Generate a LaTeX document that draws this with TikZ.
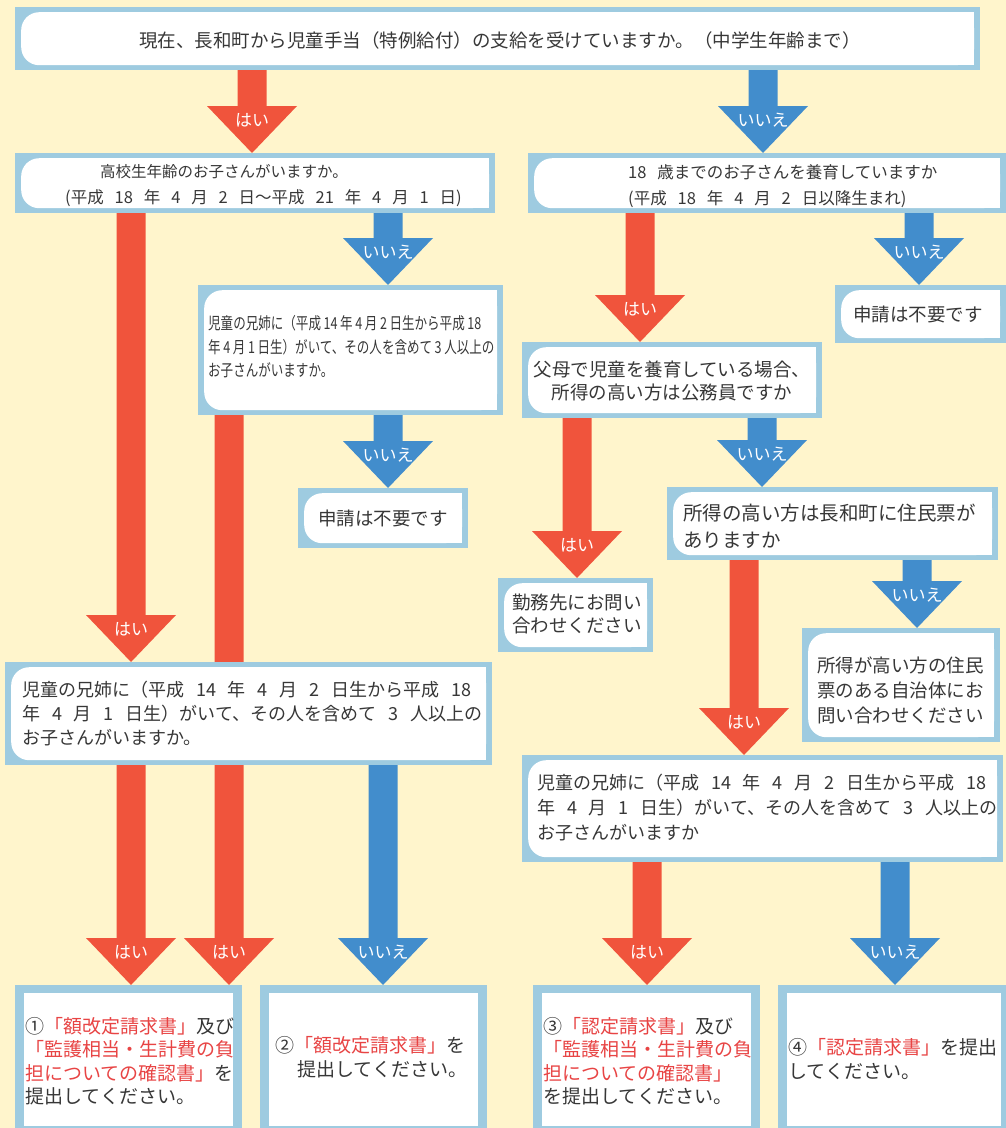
\documentclass[tikz,border=0pt]{standalone}
\usepackage{fontspec}
\setmainfont{Noto Sans CJK JP}
\newfontfamily\condfont[FakeStretch=0.76]{Noto Sans CJK JP}
\usetikzlibrary{calc,backgrounds}
\definecolor{bgcream}{RGB}{255,245,204}
\definecolor{boxblue}{RGB}{158,203,224}
\definecolor{arrred}{RGB}{240,84,60}
\definecolor{arrblue}{RGB}{66,141,204}
\definecolor{txt}{RGB}{55,55,55}
\definecolor{redtxt}{RGB}{232,68,68}
\pgfdeclarelayer{bottomlayer}
\pgfsetlayers{bottomlayer,background,main}
\newcommand\fsz[2]{\fontsize{#1pt}{#2pt}\selectfont\spaceskip=0.66em\relax}
\newcommand\condfs{\condfont\fontsize{16.5pt}{23.5pt}\selectfont\spaceskip=2.6pt\relax}
\tikzset{
 qbox/.style={fill=boxblue, anchor=north west, inner sep=0pt,
   path picture={
     \fill[white, rounded corners=18pt] ([xshift=6pt,yshift=-5pt]path picture bounding box.north west) rectangle ([xshift=-6pt,yshift=5pt]path picture bounding box.south east);
     \fill[white] ([yshift=-5pt]path picture bounding box.north) rectangle ([xshift=-6pt,yshift=5pt]path picture bounding box.south east);
   }},
 abox/.style={fill=boxblue, anchor=north west, inner sep=0pt,
   path picture={\fill[white] ([xshift=9pt,yshift=-8pt]path picture bounding box.north west) rectangle ([xshift=-9pt,yshift=9pt]path picture bounding box.south east);}},
 txtnode/.style={inner sep=0pt, text=txt, align=left},
 arrlabel/.style={text=white, font=\fsz{17}{17}, inner sep=0pt},
}
\newcommand\flowarrow[6]{%
  \fill[#1] let \p1=(#2.south), \p2=(#3.north) in
    (#4pt-14.5pt,\y1+2pt) -- (#4pt+14.5pt,\y1+2pt) -- (#4pt+14.5pt,\y2+47pt) -- (#4pt+45pt,\y2+47pt)
    -- (#4pt,\y2) -- (#4pt-45pt,\y2+47pt) -- (#4pt-14.5pt,\y2+47pt) -- cycle
    node[arrlabel] (#5) at (#4pt,\y2+33pt) {#6};
}
\begin{document}
\begin{tikzpicture}[x=1pt,y=-1pt]
\useasboundingbox (0,0) rectangle (1006,1128);
\begin{pgfonlayer}{bottomlayer}
\fill[bgcream] (0,0) rectangle (1006,1128);
\end{pgfonlayer}

\node[qbox, minimum width=965pt, minimum height=63pt] (q1) at (15,7) {};
\node[txtnode, font=\fsz{18.5}{24}] (q1t) at (500,40) {現在、長和町から児童手当（特例給付）の支給を受けていますか。（中学生年齢まで）};

\node[qbox, minimum width=480pt, minimum height=60pt] (q2) at (15,153) {};
\node[txtnode, anchor=west, font=\fsz{16.5}{26}] (q2t) at (65,186) {\hspace*{35pt}{\fsz{15.5}{26}高校生年齢のお子さんがいますか。}\\(平成 18 年 4 月 2 日〜平成 21 年 4 月 1 日)};

\node[qbox, minimum width=478pt, minimum height=60pt] (q3) at (528,153) {};
\node[txtnode, anchor=west, font=\fsz{16.5}{26}] (q3t) at (628,186) {18 歳までのお子さんを養育していますか\\(平成 18 年 4 月 2 日以降生まれ)};

\node[qbox, minimum width=305pt, minimum height=130pt] (q4) at (198,285) {};
\node[txtnode, anchor=west, font=\condfs] (q4t) at (208,347) {児童の兄姉に（平成 14 年 4 月 2 日生から平成 18\\年 4 月 1 日生）がいて、その人を含めて 3 人以上の\\お子さんがいますか。};

\node[qbox, minimum width=170pt, minimum height=60pt] (no1) at (298,488) {};
\node[txtnode, font=\fsz{18.5}{24}] (no1t) at (383,518) {申請は不要です};

\node[qbox, minimum width=171pt, minimum height=58pt] (no2) at (835,285) {};
\node[txtnode, anchor=west, font=\fsz{18.5}{24}] (no2t) at (853,314) {申請は不要です};

\node[qbox, minimum width=300pt, minimum height=76pt] (q5) at (522,342) {};
\node[txtnode, align=center, font=\fsz{18.5}{23}] (q5t) at (672,381) {父母で児童を養育している場合、\\所得の高い方は公務員ですか};

\node[qbox, minimum width=155pt, minimum height=74pt] (r1) at (498,578) {};
\node[txtnode, anchor=west, font=\fsz{18.5}{22.5}] (r1t) at (512,614) {勤務先にお問い\\合わせください};

\node[qbox, minimum width=331pt, minimum height=73pt] (q6) at (667,487) {};
\node[txtnode, anchor=west, font=\fsz{19.5}{27}] (q6t) at (683,526) {所得の高い方は長和町に住民票が\\ありますか};

\node[qbox, minimum width=198pt, minimum height=114pt] (r2) at (802,628) {};
\node[txtnode, anchor=west, font=\fsz{18.5}{25}] (r2t) at (817,690) {所得が高い方の住民\\票のある自治体にお\\問い合わせください};

\node[qbox, minimum width=487pt, minimum height=103pt] (q7) at (5,662) {};
\node[txtnode, anchor=west, font=\fsz{18}{24}] (q7t) at (22,714) {児童の兄姉に（平成 14 年 4 月 2 日生から平成 18\\年 4 月 1 日生）がいて、その人を含めて 3 人以上の\\お子さんがいますか。};

\node[qbox, minimum width=481pt, minimum height=107pt] (q8) at (522,755) {};
\node[txtnode, anchor=west, font=\fsz{18}{25}] (q8t) at (537,808) {児童の兄姉に（平成 14 年 4 月 2 日生から平成 18\\年 4 月 1 日生）がいて、その人を含めて 3 人以上の\\お子さんがいますか};

\node[abox, minimum width=227pt, minimum height=150pt] (a1) at (15,985) {};
\node[txtnode, anchor=west, font=\fsz{19}{23.5}] (a1t) at (25,1061) {①{\color{redtxt}「額改定請求書」}及び\\{\color{redtxt}「監護相当・生計費の負}\\{\color{redtxt}担についての確認書」}を\\提出してください。};

\node[abox, minimum width=227pt, minimum height=150pt] (a2) at (260,985) {};
\node[txtnode, anchor=west, font=\fsz{19}{23.5}] (a2t) at (275,1057) {②{\color{redtxt}「額改定請求書」}を\\\hspace*{22pt}提出してください。};

\node[abox, minimum width=227pt, minimum height=150pt] (a3) at (533,985) {};
\node[txtnode, anchor=west, font=\fsz{19}{23.5}] (a3t) at (543,1061) {③{\color{redtxt}「認定請求書」}及び\\{\color{redtxt}「監護相当・生計費の負}\\{\color{redtxt}担についての確認書」}\\を提出してください。};

\node[abox, minimum width=232pt, minimum height=150pt] (a4) at (778,985) {};
\node[txtnode, anchor=west, font=\fsz{19}{23.5}] (a4t) at (788,1059) {④{\color{redtxt}「認定請求書」}を提出\\してください。};

\begin{pgfonlayer}{background}
\flowarrow{arrred}{q1}{q2}{252}{l1}{はい}
\flowarrow{arrblue}{q1}{q3}{763}{l2}{いいえ}
\flowarrow{arrred}{q2}{q7}{131}{l3}{はい}
\flowarrow{arrblue}{q2}{q4}{388}{l4}{いいえ}
\flowarrow{arrred}{q4}{a1}{229}{l5}{はい}
\flowarrow{arrblue}{q4}{no1}{388}{l6}{いいえ}
\flowarrow{arrred}{q7}{a1}{131}{l7}{はい}
\flowarrow{arrblue}{q7}{a2}{383}{l8}{いいえ}
\flowarrow{arrred}{q3}{q5}{640}{l9}{はい}
\flowarrow{arrblue}{q3}{no2}{919}{l10}{いいえ}
\flowarrow{arrred}{q5}{r1}{577}{l11}{はい}
\flowarrow{arrblue}{q5}{q6}{762}{l12}{いいえ}
\flowarrow{arrred}{q6}{q8}{744}{l13}{はい}
\flowarrow{arrblue}{q6}{r2}{917}{l14}{いいえ}
\flowarrow{arrred}{q8}{a3}{647}{l15}{はい}
\flowarrow{arrblue}{q8}{a4}{895}{l16}{いいえ}
\end{pgfonlayer}
\end{tikzpicture}
\end{document}
